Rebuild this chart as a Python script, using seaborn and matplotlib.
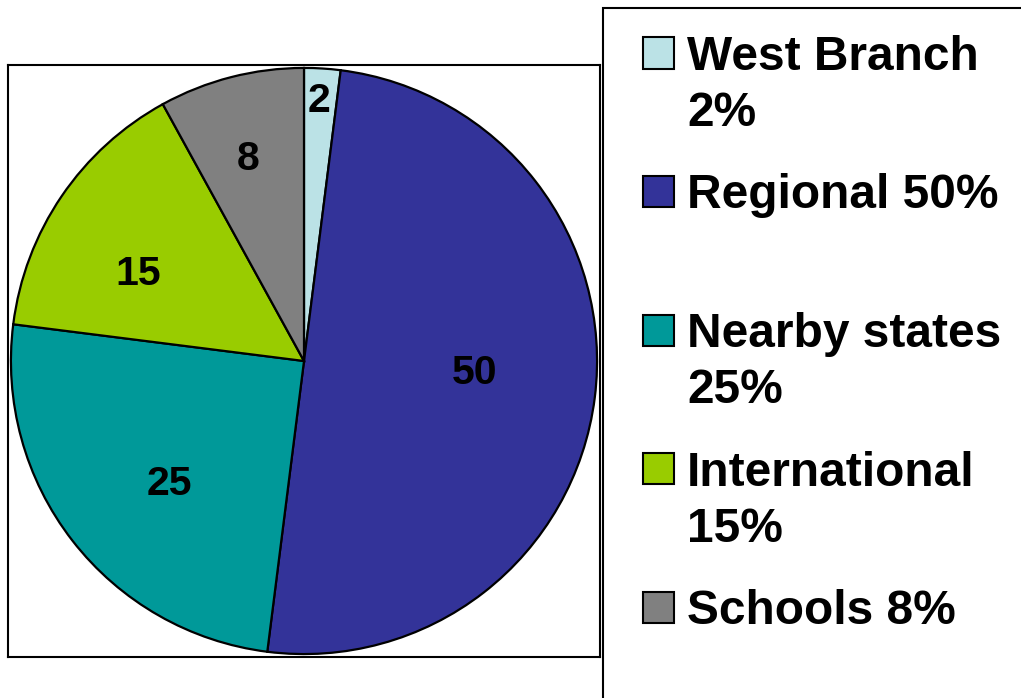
import matplotlib
matplotlib.use("Agg")
import matplotlib.pyplot as plt
from matplotlib.patches import Rectangle
import numpy as np
import seaborn as sns

# Data
categories = ["West Branch", "Regional", "Nearby states", "International", "Schools"]
shares = [2, 50, 25, 15, 8]
legend_labels = ["West Branch\n2%", "Regional 50%", "Nearby states\n25%",
                 "International\n15%", "Schools 8%"]
colors = ["#BBE2E6", "#333399", "#009999", "#99CC00", "#808080"]
# placement of the value labels inside each wedge:
# radial distance (fraction of radius) and position along the wedge's sweep
label_radius = [0.89, 0.583, 0.622, 0.64, 0.716]
label_sweep = [0.46, 0.483, 0.45, 0.38, 0.46]

sns.set_style("white")
plt.rcParams["font.family"] = ["Liberation Sans", "DejaVu Sans"]
plt.rcParams["font.weight"] = "bold"

W, H = 1021, 698
fig = plt.figure(figsize=(W / 100, H / 100), dpi=100)
fig.patch.set_facecolor("white")

# Pie inside a framed square plot area
ax = fig.add_axes([8 / W, (H - 657) / H, 592 / W, 592 / H])
wedges, _ = ax.pie(
    shares, colors=colors, startangle=90, counterclock=False, radius=1.0,
    wedgeprops=dict(edgecolor="black", linewidth=1.6),
)
for w, val, r, f in zip(wedges, shares, label_radius, label_sweep):
    # clockwise wedges: sweep starts at theta2 and runs down to theta1
    ang = np.deg2rad(w.theta2 - f * (w.theta2 - w.theta1))
    ax.text(r * np.cos(ang), r * np.sin(ang), f"{val}", ha="center", va="center",
            fontsize=29.5, fontweight="bold", color="black")
ax.set_xlim(-1.01, 1.01)
ax.set_ylim(-1.01, 1.01)
ax.set_frame_on(True)
for sp in ax.spines.values():
    sp.set_visible(True)
    sp.set_color("black")
    sp.set_linewidth(1.5)
ax.set_xticks([])
ax.set_yticks([])

# Legend panel at the right
fig.add_artist(Rectangle((603 / W, -0.1), 1.0, (H - 8) / H + 0.1,
                         transform=fig.transFigure, fill=False,
                         edgecolor="black", linewidth=1.5))
entry_step = 138.5
line_step = 56
for i, (lab, col) in enumerate(zip(legend_labels, colors)):
    yc = 53 + i * entry_step
    fig.add_artist(Rectangle((643 / W, 1 - (yc + 15.5) / H), 31 / W, 31 / H,
                             transform=fig.transFigure, facecolor=col,
                             edgecolor="black", linewidth=1.5))
    for j, line in enumerate(lab.split("\n")):
        fig.text(687 / W, 1 - (yc + 17 + j * line_step) / H, line,
                 ha="left", va="baseline", fontsize=34.5, fontweight="bold",
                 color="black")

fig.savefig("out.png", dpi=100, facecolor="white")
